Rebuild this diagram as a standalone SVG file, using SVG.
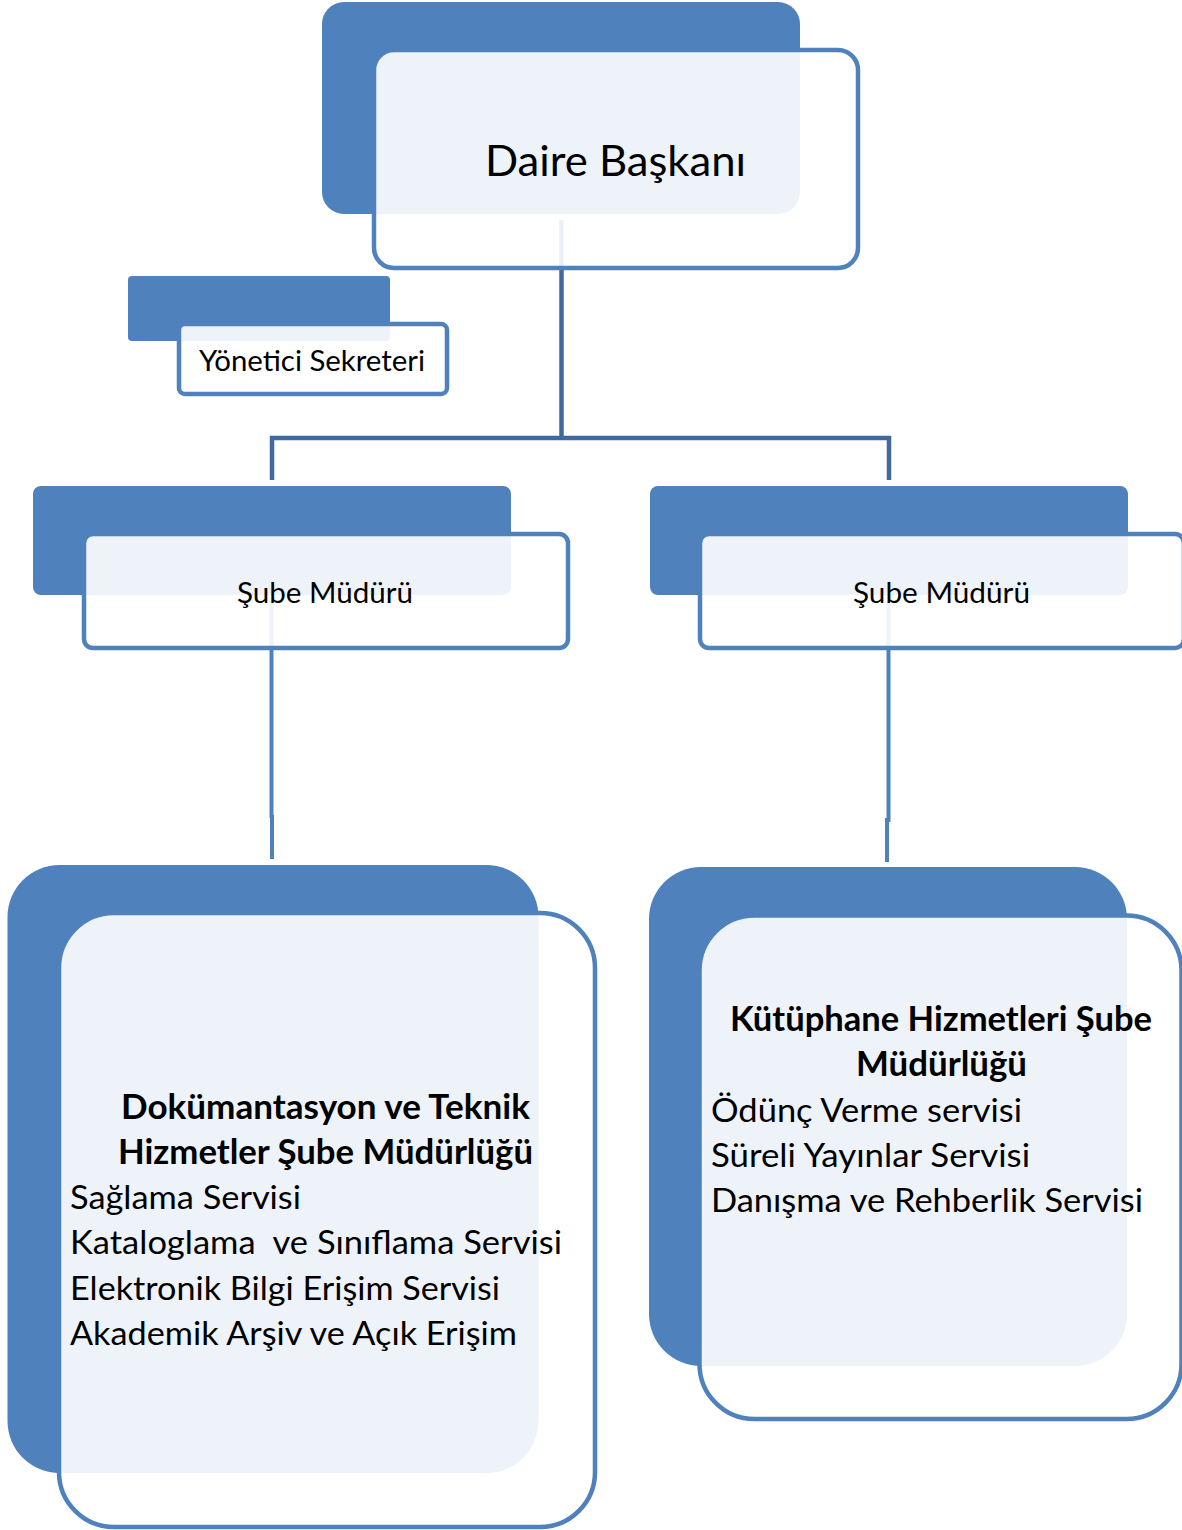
<svg xmlns="http://www.w3.org/2000/svg" width="1182" height="1530" viewBox="0 0 1182 1530">
  <style>
    .back { fill: #4F81BD; }
    .front { fill: #FFFFFF; fill-opacity: 0.9; stroke: #4F81BD; stroke-width: 4.5; }
    .conn-top { fill: none; stroke: #41699E; stroke-width: 4.5; }
    .conn { fill: none; stroke: #4F81BD; stroke-width: 4; }
    text { font-family: Lato, "Liberation Sans", sans-serif; fill: #000000; }
    .t-big { font-size: 43px; }
    .t-mid { font-size: 29px; }
    .t-list { font-size: 33.5px; }
    .t-bold { font-size: 33.5px; font-weight: bold; }
  </style>
  <rect x="0" y="0" width="1182" height="1530" fill="#FFFFFF"/>

  <g id="connectors">
    <path class="conn-top" d="M561.5 220 V438 M272 480 V438 H889 V480"/>
    <path class="conn" d="M271.5 600 V818 M272 815 V859"/>
    <path class="conn" d="M888.5 600 V822 M887 818 V862"/>
  </g>

  <g id="daire-baskani">
    <rect class="back" x="322" y="2" width="478" height="212" rx="22"/>
    <rect class="front" x="374" y="50" width="484" height="218" rx="20"/>
    <text class="t-big" x="485" y="176" textLength="261" lengthAdjust="spacingAndGlyphs">Daire Başkanı</text>
  </g>

  <g id="yonetici-sekreteri">
    <rect class="back" x="128" y="276" width="262" height="65" rx="4"/>
    <rect class="front" x="179" y="324" width="268" height="70" rx="6"/>
    <text class="t-mid" x="199" y="371" textLength="226" lengthAdjust="spacingAndGlyphs">Yönetici Sekreteri</text>
  </g>

  <g id="sube-muduru-left">
    <rect class="back" x="33" y="486" width="478" height="109" rx="8"/>
    <rect class="front" x="84" y="534" width="484" height="114" rx="9"/>
    <text class="t-mid" x="237" y="603" textLength="176" lengthAdjust="spacingAndGlyphs">Şube Müdürü</text>
  </g>

  <g id="sube-muduru-right">
    <rect class="back" x="650" y="486" width="478" height="109" rx="8"/>
    <rect class="front" x="700" y="534" width="484" height="114" rx="9"/>
    <text class="t-mid" x="853" y="603" textLength="177" lengthAdjust="spacingAndGlyphs">Şube Müdürü</text>
  </g>

  <g id="dokumantasyon">
    <rect class="back" x="7.5" y="865" width="531" height="608" rx="52"/>
    <rect class="front" x="59" y="913" width="536" height="614" rx="55"/>
    <text class="t-bold" x="121" y="1119" textLength="409" lengthAdjust="spacingAndGlyphs">Dokümantasyon ve Teknik</text>
    <text class="t-bold" x="118" y="1164" textLength="415" lengthAdjust="spacingAndGlyphs">Hizmetler Şube Müdürlüğü</text>
    <text class="t-list" x="70" y="1209" textLength="231" lengthAdjust="spacingAndGlyphs">Sağlama Servisi</text>
    <text class="t-list" x="70" y="1254" textLength="492" lengthAdjust="spacingAndGlyphs" xml:space="preserve">Kataloglama  ve Sınıflama Servisi</text>
    <text class="t-list" x="70" y="1300" textLength="430" lengthAdjust="spacingAndGlyphs">Elektronik Bilgi Erişim Servisi</text>
    <text class="t-list" x="70" y="1345" textLength="447" lengthAdjust="spacingAndGlyphs">Akademik Arşiv ve Açık Erişim</text>
  </g>

  <g id="kutuphane-hizmetleri">
    <rect class="back" x="649" y="867" width="478" height="499" rx="52"/>
    <rect class="front" x="699.5" y="915.5" width="482" height="503.5" rx="55"/>
    <text class="t-bold" x="730" y="1031" textLength="422" lengthAdjust="spacingAndGlyphs">Kütüphane Hizmetleri Şube</text>
    <text class="t-bold" x="856" y="1076" textLength="171" lengthAdjust="spacingAndGlyphs">Müdürlüğü</text>
    <text class="t-list" x="711" y="1122" textLength="311" lengthAdjust="spacingAndGlyphs">Ödünç Verme servisi</text>
    <text class="t-list" x="711" y="1167" textLength="319" lengthAdjust="spacingAndGlyphs">Süreli Yayınlar Servisi</text>
    <text class="t-list" x="711" y="1212" textLength="432" lengthAdjust="spacingAndGlyphs">Danışma ve Rehberlik Servisi</text>
  </g>
</svg>
